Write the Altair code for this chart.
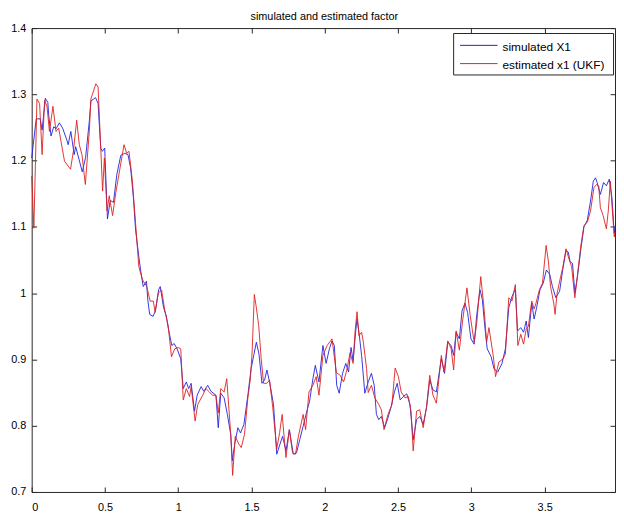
import altair as alt
import pandas as pd

# ---- data ----
sim_t = [0.000, 0.031, 0.058, 0.071, 0.093, 0.110, 0.116, 0.132, 0.150, 0.166, 0.189, 0.211, 0.240, 0.249,
         0.267, 0.290, 0.300, 0.323, 0.345, 0.368, 0.393, 0.404, 0.436, 0.453, 0.471, 0.482, 0.498, 0.517,
         0.536, 0.558, 0.581, 0.608, 0.635, 0.657, 0.675, 0.694, 0.709, 0.731, 0.743, 0.761, 0.783, 0.792,
         0.805, 0.828, 0.844, 0.866, 0.877, 0.900, 0.918, 0.933, 0.956, 0.972, 0.992, 1.017, 1.034, 1.055,
         1.071, 1.088, 1.111, 1.129, 1.156, 1.174, 1.201, 1.223, 1.257, 1.273, 1.290, 1.313, 1.335, 1.358,
         1.369, 1.385, 1.407, 1.425, 1.448, 1.475, 1.497, 1.515, 1.533, 1.551, 1.571, 1.589, 1.605, 1.623,
         1.650, 1.672, 1.694, 1.712, 1.735, 1.758, 1.785, 1.807, 1.829, 1.852, 1.874, 1.896, 1.919, 1.935,
         1.960, 1.987, 2.009, 2.031, 2.049, 2.065, 2.081, 2.098, 2.121, 2.143, 2.162, 2.179, 2.193, 2.211,
         2.220, 2.233, 2.251, 2.273, 2.296, 2.318, 2.337, 2.352, 2.368, 2.386, 2.408, 2.431, 2.453, 2.475,
         2.494, 2.514, 2.536, 2.559, 2.581, 2.603, 2.626, 2.648, 2.671, 2.694, 2.716, 2.738, 2.761, 2.795,
         2.817, 2.839, 2.862, 2.879, 2.896, 2.918, 2.936, 2.956, 2.974, 2.997, 3.019, 3.037, 3.059, 3.075,
         3.091, 3.108, 3.135, 3.154, 3.180, 3.209, 3.232, 3.255, 3.277, 3.300, 3.315, 3.337, 3.356, 3.374,
         3.389, 3.412, 3.428, 3.445, 3.468, 3.490, 3.512, 3.535, 3.553, 3.576, 3.602, 3.623, 3.646, 3.661,
         3.674, 3.690, 3.706, 3.724, 3.746, 3.768, 3.791, 3.813, 3.832, 3.847, 3.858, 3.880, 3.902, 3.921,
         3.941, 3.959, 3.975, 3.980]
sim_x = [1.204, 1.263, 1.263, 1.246, 1.294, 1.288, 1.269, 1.237, 1.251, 1.248, 1.257, 1.249, 1.231, 1.224,
         1.244, 1.209, 1.221, 1.202, 1.183, 1.205, 1.259, 1.290, 1.295, 1.286, 1.219, 1.214, 1.219, 1.112,
         1.140, 1.137, 1.179, 1.208, 1.211, 1.209, 1.189, 1.144, 1.095, 1.055, 1.035, 1.010, 1.018, 0.990,
         0.968, 0.965, 0.973, 1.005, 1.010, 0.978, 0.966, 0.946, 0.921, 0.924, 0.916, 0.901, 0.856, 0.866,
         0.856, 0.864, 0.822, 0.846, 0.859, 0.852, 0.861, 0.852, 0.846, 0.797, 0.849, 0.842, 0.817, 0.787,
         0.747, 0.772, 0.797, 0.789, 0.802, 0.846, 0.886, 0.906, 0.926, 0.908, 0.864, 0.869, 0.884, 0.866,
         0.832, 0.757, 0.772, 0.784, 0.762, 0.794, 0.757, 0.759, 0.779, 0.799, 0.819, 0.837, 0.871, 0.891,
         0.866, 0.921, 0.894, 0.916, 0.928, 0.921, 0.861, 0.849, 0.879, 0.894, 0.881, 0.918, 0.898, 0.943,
         0.961, 0.941, 0.906, 0.849, 0.866, 0.879, 0.861, 0.817, 0.809, 0.814, 0.797, 0.812, 0.829, 0.851,
         0.864, 0.839, 0.844, 0.848, 0.832, 0.779, 0.809, 0.814, 0.802, 0.827, 0.869, 0.854, 0.851, 0.901,
         0.879, 0.926, 0.921, 0.906, 0.941, 0.931, 0.973, 0.985, 0.971, 0.931, 0.923, 0.968, 1.005, 0.990,
         0.951, 0.916, 0.904, 0.886, 0.881, 0.894, 0.916, 0.978, 0.995, 1.006, 0.943, 0.948, 0.941, 0.958,
         0.933, 0.985, 0.961, 0.978, 1.005, 1.015, 1.035, 1.028, 1.010, 0.993, 1.003, 1.035, 1.065, 1.062,
         1.047, 1.045, 1.000, 1.025, 1.065, 1.100, 1.110, 1.139, 1.169, 1.174, 1.167, 1.149, 1.167, 1.162,
         1.172, 1.144, 1.090, 1.100]

est_t = [0.000, 0.015, 0.036, 0.054, 0.071, 0.088, 0.105, 0.121, 0.145, 0.166, 0.184, 0.224, 0.265, 0.285,
         0.307, 0.325, 0.343, 0.366, 0.393, 0.404, 0.438, 0.453, 0.467, 0.484, 0.496, 0.514, 0.529, 0.552,
         0.574, 0.603, 0.630, 0.648, 0.664, 0.687, 0.709, 0.731, 0.756, 0.785, 0.808, 0.830, 0.842, 0.864,
         0.886, 0.909, 0.931, 0.954, 0.976, 0.999, 1.017, 1.034, 1.055, 1.077, 1.088, 1.115, 1.133, 1.167,
         1.189, 1.212, 1.234, 1.257, 1.273, 1.290, 1.313, 1.331, 1.358, 1.371, 1.389, 1.414, 1.430, 1.452,
         1.475, 1.492, 1.504, 1.519, 1.533, 1.549, 1.566, 1.582, 1.605, 1.623, 1.645, 1.672, 1.692, 1.709,
         1.735, 1.758, 1.780, 1.800, 1.818, 1.852, 1.869, 1.892, 1.919, 1.941, 1.960, 1.987, 2.016, 2.049,
         2.079, 2.105, 2.128, 2.150, 2.172, 2.193, 2.206, 2.220, 2.233, 2.251, 2.263, 2.285, 2.296, 2.318,
         2.341, 2.368, 2.386, 2.404, 2.431, 2.458, 2.480, 2.502, 2.521, 2.547, 2.570, 2.588, 2.603, 2.626,
         2.648, 2.671, 2.694, 2.716, 2.738, 2.761, 2.795, 2.813, 2.839, 2.862, 2.879, 2.896, 2.918, 2.940,
         2.970, 2.992, 3.019, 3.037, 3.064, 3.086, 3.104, 3.120, 3.149, 3.165, 3.187, 3.216, 3.232, 3.255,
         3.277, 3.300, 3.317, 3.337, 3.356, 3.374, 3.389, 3.412, 3.428, 3.441, 3.464, 3.485, 3.510, 3.526,
         3.540, 3.562, 3.571, 3.585, 3.607, 3.623, 3.646, 3.661, 3.684, 3.706, 3.724, 3.746, 3.768, 3.791,
         3.813, 3.836, 3.854, 3.869, 3.880, 3.899, 3.921, 3.934, 3.948, 3.959, 3.975, 3.980]
est_x = [1.177, 1.098, 1.293, 1.286, 1.209, 1.291, 1.281, 1.244, 1.282, 1.244, 1.249, 1.199, 1.187, 1.215,
         1.261, 1.224, 1.209, 1.164, 1.244, 1.293, 1.316, 1.311, 1.240, 1.154, 1.204, 1.124, 1.147, 1.117,
         1.152, 1.189, 1.224, 1.211, 1.214, 1.169, 1.105, 1.040, 1.020, 1.010, 0.988, 0.988, 0.971, 1.000,
         1.005, 0.973, 0.951, 0.904, 0.916, 0.918, 0.916, 0.839, 0.856, 0.844, 0.859, 0.807, 0.832, 0.846,
         0.856, 0.851, 0.846, 0.846, 0.819, 0.856, 0.851, 0.871, 0.787, 0.725, 0.784, 0.772, 0.767, 0.787,
         0.842, 0.871, 0.911, 0.998, 0.978, 0.951, 0.901, 0.864, 0.864, 0.869, 0.827, 0.765, 0.790, 0.817,
         0.752, 0.794, 0.759, 0.757, 0.782, 0.817, 0.794, 0.851, 0.861, 0.874, 0.846, 0.906, 0.921, 0.931,
         0.880, 0.876, 0.866, 0.884, 0.910, 0.894, 0.941, 0.972, 0.936, 0.941, 0.926, 0.886, 0.850, 0.861,
         0.842, 0.832, 0.824, 0.794, 0.817, 0.832, 0.887, 0.874, 0.851, 0.842, 0.844, 0.822, 0.762, 0.822,
         0.824, 0.797, 0.829, 0.876, 0.846, 0.834, 0.906, 0.881, 0.928, 0.916, 0.884, 0.943, 0.914, 0.958,
         1.008, 0.966, 0.926, 0.956, 1.025, 0.978, 0.926, 0.948, 0.906, 0.874, 0.896, 0.901, 0.908, 0.993,
         0.988, 1.013, 0.921, 0.938, 0.923, 0.946, 0.950, 0.988, 0.976, 0.985, 1.005, 1.015, 1.072, 1.047,
         1.010, 0.985, 0.968, 1.000, 1.023, 1.038, 1.067, 1.055, 1.040, 0.993, 1.028, 1.070, 1.102, 1.107,
         1.124, 1.159, 1.164, 1.162, 1.129, 1.117, 1.097, 1.124, 1.169, 1.134, 1.085, 1.092]

series_names = ["simulated X1", "estimated x1 (UKF)"]
series_colors = ["#2020e0", "#dd2020"]
x_ticks = [0, 0.5, 1, 1.5, 2, 2.5, 3, 3.5]
y_ticks = [0.7, 0.8, 0.9, 1.0, 1.1, 1.2, 1.3, 1.4]
x_domain = [0, 3.98]
y_domain = [0.7, 1.4]
title_text = "simulated and estimated factor"

df_sim = pd.DataFrame({"t": sim_t, "x": sim_x})
df_est = pd.DataFrame({"t": est_t, "x": est_x})

FONT = "Liberation Sans"
FRAME = "#262626"
W, H = 591, 470

xs = alt.Scale(domain=x_domain, nice=False, zero=False)
ys = alt.Scale(domain=y_domain, nice=False, zero=False)

ax = alt.Axis(orient="bottom", values=x_ticks, format="~g", ticks=False, domain=False, grid=False,
              labelPadding=10, labelFontSize=11, labelFont=FONT, labelColor="black", title=None)
ay = alt.Axis(orient="left", values=y_ticks, format="~g", ticks=False, domain=False, grid=False,
              labelPadding=6, labelFontSize=11, labelFont=FONT, labelColor="black", title=None)


def tick_axis(orient, vals):
    return alt.Axis(orient=orient, values=vals, offset=-5, tickSize=5, ticks=True, domain=False,
                    labels=False, grid=False, title=None, tickColor=FRAME, tickWidth=1)


sim_line = alt.Chart(df_sim).mark_line(color=series_colors[0], strokeWidth=0.9).encode(
    x=alt.X("t:Q", scale=xs, axis=ax),
    y=alt.Y("x:Q", scale=ys, axis=ay),
)
est_line = alt.Chart(df_est).mark_line(color=series_colors[1], strokeWidth=0.9).encode(
    x=alt.X("t:Q", scale=xs, axis=None),
    y=alt.Y("x:Q", scale=ys, axis=None),
)

ticks_bl = alt.Chart(df_sim).mark_point(opacity=0).encode(
    x=alt.X("t:Q", scale=xs, axis=tick_axis("bottom", x_ticks)),
    y=alt.Y("x:Q", scale=ys, axis=tick_axis("left", y_ticks)),
)
ticks_tr = alt.Chart(df_sim).mark_point(opacity=0).encode(
    x=alt.X("t:Q", scale=xs, axis=tick_axis("top", x_ticks)),
    y=alt.Y("x:Q", scale=ys, axis=tick_axis("right", y_ticks)),
)

one = pd.DataFrame({"k": [0]})

# title drawn as text just above the plot frame
title_mark = alt.Chart(one).mark_text(align="center", baseline="middle", font=FONT, fontSize=11,
                                      color="black").encode(
    x=alt.value(W / 2 + 1), y=alt.value(-11.5), text=alt.value(title_text)
)

# legend (drawn inside the plot, upper right)
leg_box = alt.Chart(one).mark_rect(fill="white", stroke=FRAME, strokeWidth=1).encode(
    x=alt.value(427.5), x2=alt.value(589.5), y=alt.value(5.5), y2=alt.value(47.5)
)
leg_layers = [leg_box]
for i, (name, col) in enumerate(zip(series_names, series_colors)):
    yy = 17.5 + 18.5 * i
    leg_layers.append(
        alt.Chart(one).mark_rule(color=col, strokeWidth=1).encode(
            x=alt.value(434), x2=alt.value(472), y=alt.value(yy)
        )
    )
    leg_layers.append(
        alt.Chart(one).mark_text(align="left", baseline="middle", font=FONT, fontSize=12, color="black").encode(
            x=alt.value(477), y=alt.value(yy + 1.5), text=alt.value(name)
        )
    )

chart = alt.layer(sim_line, est_line, ticks_bl, ticks_tr, title_mark, *leg_layers).resolve_axis(
    x="independent", y="independent"
).properties(
    width=W, height=H,
    autosize="none",
    padding={"left": 24, "top": 17, "right": 1, "bottom": 20},
).configure_view(stroke=FRAME, strokeWidth=1)

chart.save("out.html", embed_options={"renderer": "svg", "actions": False})
